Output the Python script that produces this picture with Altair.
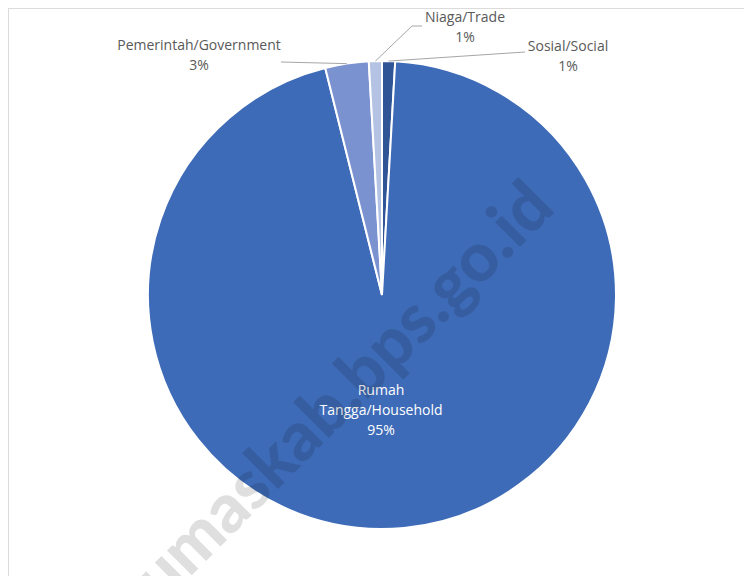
import altair as alt
import pandas as pd
import numpy as np

# ---- data ----
categories = ["Sosial/Social", "Rumah Tangga/Household", "Pemerintah/Government", "Niaga/Trade"]
values = [0.9, 95.2, 3.0, 0.9]
colors = ["#2F5597", "#3E6BB7", "#7B92D0", "#B4C2E3"]

# label layout (view pixel coordinates)
label_lines = [["Sosial/Social"], ["Rumah", "Tangga/Household"], ["Pemerintah/Government"], ["Niaga/Trade"]]
label_x = [560, 373, 191, 457]
label_y = [39, 383, 38, 10]
label_color = ["#595959", "#FFFFFF", "#595959", "#595959"]
# leader line bends/ends (view pixel coordinates), None = no leader
leader_pts = [[(517, 44)], None, [(273, 54)], [(404, 18), (414, 18)]]

W, H = 736, 568
CX, CY, R = 374, 287, 234
LINE_H = 20

total = sum(values)
pct = [f"{round(v / total * 100):d}%" for v in values]

pie_df = pd.DataFrame({"cat": categories, "val": values, "idx": list(range(len(values)))})

# text rows
trows = []
for i, lines in enumerate(label_lines):
    allines = lines + [pct[i]]
    for j, t in enumerate(allines):
        trows.append({"x": label_x[i], "y": label_y[i] + j * LINE_H, "t": t, "c": label_color[i]})
text_df = pd.DataFrame(trows)

# leader segments computed from slice mid-angles
cum = np.cumsum([0] + values) / total
segs = []
for i, pts in enumerate(leader_pts):
    if pts is None:
        continue
    mid = (cum[i] + cum[i + 1]) / 2 * 2 * np.pi
    start = (CX + R * np.sin(mid), CY - R * np.cos(mid))
    chain = [start] + pts
    for a, b in zip(chain[:-1], chain[1:]):
        segs.append({"x": a[0], "y": a[1], "x2": b[0], "y2": b[1]})
seg_df = pd.DataFrame(segs)

xs = alt.Scale(domain=[0, W])
ys = alt.Scale(domain=[H, 0])

pie = alt.Chart(pie_df).mark_arc(outerRadius=R, stroke="white", strokeWidth=2).encode(
    theta=alt.Theta("val:Q", stack=True),
    order=alt.Order("idx:Q"),
    color=alt.Color("cat:N", scale=alt.Scale(domain=categories, range=colors), legend=None),
    x=alt.value(CX),
    y=alt.value(CY),
)

leaders = alt.Chart(seg_df).mark_rule(color="#A6A6A6", strokeWidth=1).encode(
    x=alt.X("x:Q", scale=xs, axis=None),
    y=alt.Y("y:Q", scale=ys, axis=None),
    x2="x2:Q",
    y2="y2:Q",
)

labels = alt.Chart(text_df).mark_text(
    font="Open Sans", fontSize=14, align="center", baseline="middle"
).encode(
    x=alt.X("x:Q", scale=xs, axis=None),
    y=alt.Y("y:Q", scale=ys, axis=None),
    text="t:N",
    color=alt.Color("c:N", scale=None),
)

wm_df = pd.DataFrame({"x": [549], "y": [202], "t": ["banyumaskab.bps.go.id"]})
watermark = alt.Chart(wm_df).mark_text(
    font="Lato", fontWeight=900, fontSize=68, angle=315,
    align="right", baseline="alphabetic", color="black", opacity=0.12
).encode(
    x=alt.X("x:Q", scale=xs, axis=None),
    y=alt.Y("y:Q", scale=ys, axis=None),
    text="t:N",
)

border_df = pd.DataFrame({"x": [0, 0], "y": [0, 0], "x2": [W, 0], "y2": [0, H]})
border = alt.Chart(border_df).mark_rule(color="#D9D9D9", strokeWidth=1).encode(
    x=alt.X("x:Q", scale=xs, axis=None),
    y=alt.Y("y:Q", scale=ys, axis=None),
    x2="x2:Q",
    y2="y2:Q",
)

chart = alt.layer(border, pie, leaders, labels, watermark).properties(
    width=W, height=H, padding=0, autosize=alt.AutoSizeParams(type="none")
).configure_view(stroke=None).configure(background="white")

chart.save("out.html", embed_options={"renderer": "svg", "actions": False})
